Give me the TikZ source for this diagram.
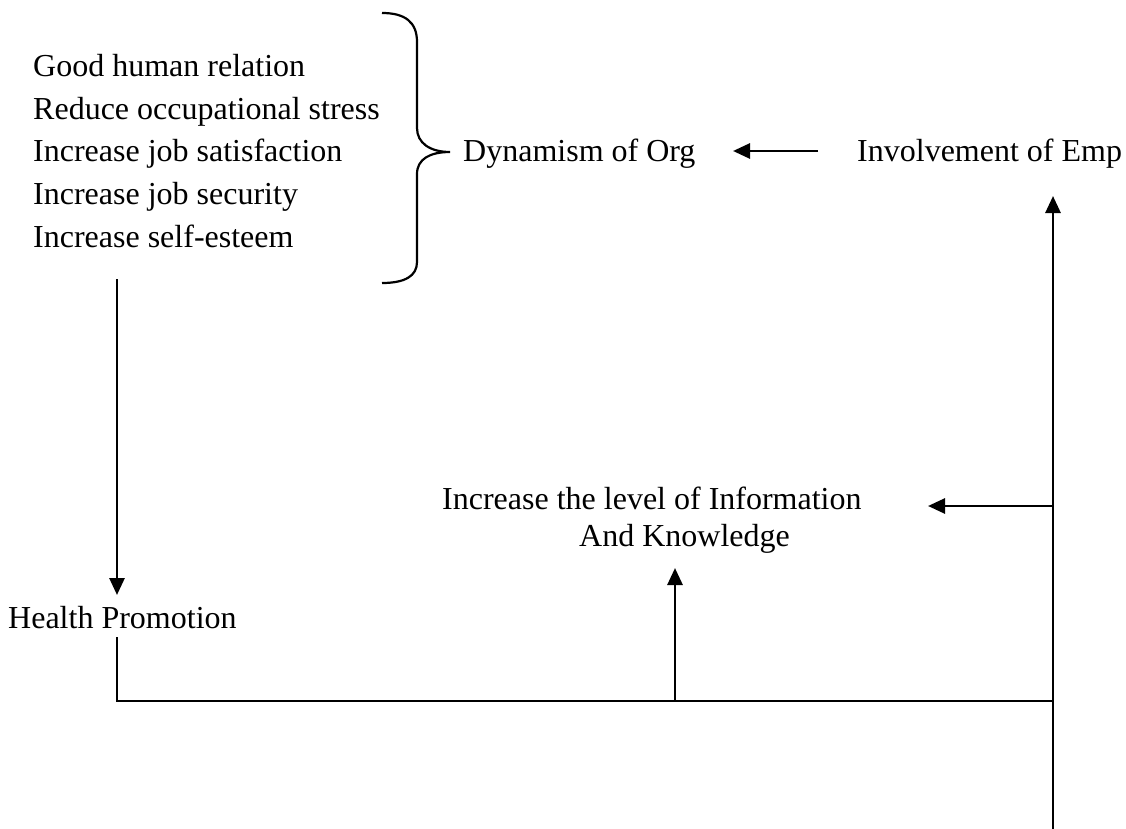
\documentclass[tikz,border=0pt]{standalone}
\usepackage{fontspec}
\setmainfont{Liberation Serif}
\usetikzlibrary{arrows.meta}
\begin{document}
\begin{tikzpicture}[x=1pt,y=-1pt,
  txt/.style={anchor=base west,inner sep=0pt,font=\fontsize{32}{42.5}\selectfont},
  ln/.style={line width=2.8pt},
  arr/.style={ln,-{Triangle[length=17pt,width=15pt]}}]
\useasboundingbox (0,0) rectangle (1126,829);
% list
\node[txt] (l1) at (33,77) {Good human relation};
\node[txt] (l2) at (33,119.5) {Reduce occupational stress};
\node[txt] (l3) at (33,162) {Increase job satisfaction};
\node[txt] (l4) at (33,204.5) {Increase job security};
\node[txt] (l5) at (33,247) {Increase self-esteem};
% brace
\draw[line width=2.2pt] (382,13) .. controls (405,13) and (417,22) .. (417,42) -- (417,128)
  .. controls (417,143) and (430,152) .. (450,152)
  .. controls (430,152) and (417,159) .. (417,174) -- (417,262)
  .. controls (417,276) and (405,283) .. (382,283);
\node[txt] (org) at (463,162) {Dynamism of Org};
\node[txt] (emp) at (857,162) {Involvement of Emp};
\node[txt] (info1) at (442,509) {Increase the level of Information};
\node[txt] (info2) at (579,546) {And Knowledge};
\node[txt] (hp) at (8,628) {Health Promotion};
% coordinates
\coordinate (eA) at (818,151);
\coordinate (eB) at (733,151);
\coordinate (rb) at (1053,829);
\coordinate (rt) at (1053,196);
\coordinate (rm) at (1053,506);
\coordinate (im) at (928,506);
\coordinate (hr) at (1053,701);
\coordinate (hl) at (117,701);
\coordinate (hs) at (117,637);
\coordinate (hm) at (675,701);
\coordinate (ht) at (675,568);
\coordinate (lt) at (117,279);
\coordinate (lb) at (117,595);
% connectors
\draw[arr] (eA) -- (eB);
\draw[arr] (rb) -- (rt);
\draw[arr] (rm) -- (im);
\draw[ln] (hs) -- (hl) -- (hr);
\draw[arr] (hm) -- (ht);
\draw[arr] (lt) -- (lb);
\end{tikzpicture}
\end{document}
